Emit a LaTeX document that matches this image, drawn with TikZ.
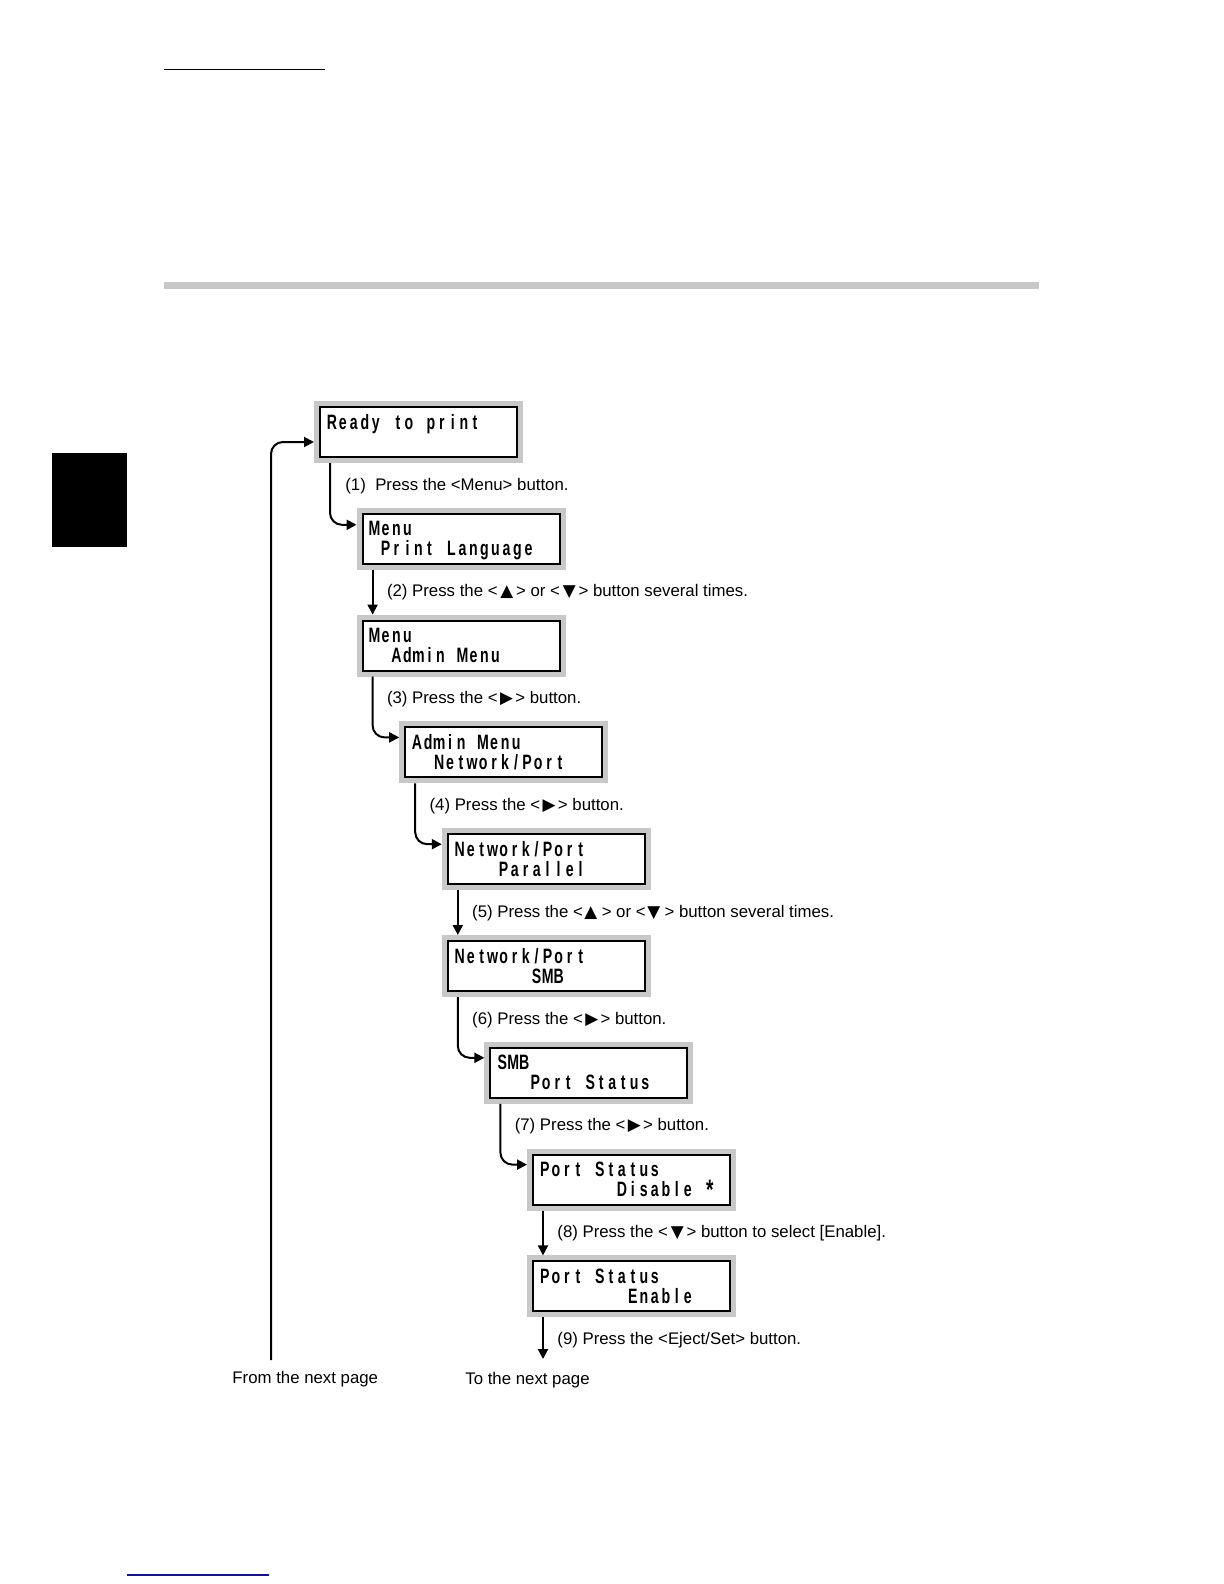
\documentclass[tikz,border=0pt]{standalone}
\usepackage{fontspec}
\usepackage{graphicx}
\setmainfont{Liberation Sans}
\newfontfamily\lcdfont[FakeStretch=0.68]{Liberation Sans}
\newfontfamily\symfont{DejaVu Sans}
\usetikzlibrary{arrows.meta,calc}
\ExplSyntaxOn
\NewDocumentCommand\lcdtext{m}{
  \str_map_inline:nn {#1} {
    \str_if_eq:nnTF {##1} {_}
      { \hbox_to_wd:nn {5.5pt} { } }
      {
        \str_if_eq:nnTF {##1} {*}
          { \hbox_to_wd:nn {5.5pt} { \hss \raisebox{-1.6pt}{\scalebox{1.35}{*}} \hss } }
          { \hbox_to_wd:nn {5.5pt} { \hss ##1 \hss } }
      }
  }
}
\ExplSyntaxOff
\newcommand\up{\kern1.4pt{\symfont ▲}\kern1.4pt}
\newcommand\down{\kern1.4pt{\symfont ▼}\kern1.4pt}
\newcommand\upsp{\kern0.8pt{\symfont ▲}\kern2.2pt}
\newcommand\downsp{\kern0.8pt{\symfont ▼}\kern2.2pt}
\newcommand\rightkey{\kern1.2pt{\symfont ▶}\kern1.2pt}
\definecolor{framegray}{RGB}{200,200,200}
\definecolor{navyline}{RGB}{20,20,130}
\newcommand\lcdframe[3]{%
  \node[lcdouter] (#1o) at (#2,#3) {};
  \node[lcdinner] (#1) at (#1o.center) {};
}
\begin{document}
\begin{tikzpicture}[x=0.5pt,y=-0.5pt,
  lcdouter/.style={rectangle, fill=framegray, draw=none, anchor=north west,
    minimum width=104.5pt, minimum height=31pt, inner sep=0pt, outer sep=0pt},
  lcdinner/.style={rectangle, fill=white, draw=black, line width=1pt,
    minimum width=98.5pt, minimum height=25pt, inner sep=0pt, outer sep=0pt},
  lcdtxt/.style={anchor=base west, inner sep=0pt,
    font=\lcdfont\bfseries\fontsize{10.4pt}{11pt}\selectfont},
  steplabel/.style={anchor=base west, inner sep=0pt,
    font=\fontsize{8.4pt}{10pt}\selectfont},
  conn/.style={line width=1pt, -{Triangle[length=5pt,width=5pt]}},
  turn/.style={conn, rounded corners=6pt}]
\useasboundingbox (0,0) rectangle (1224,1584);

% page decorations
\draw[line width=0.5pt] (164,69.5) -- (325,69.5);
\fill[framegray] (164,282) rectangle (1039,289);
\fill[black] (52,453) rectangle (127,547);
\draw[navyline, line width=0.7pt] (127,1575) -- (269,1575);

% LCD boxes
\lcdframe{b1}{314}{401}
\lcdframe{b2}{356.6}{507.8}
\lcdframe{b3}{356.6}{614.6}
\lcdframe{b4}{399.2}{721.4}
\lcdframe{b5}{441.8}{828.2}
\lcdframe{b6}{441.8}{935}
\lcdframe{b7}{484.4}{1041.8}
\lcdframe{b8}{527}{1148.6}
\lcdframe{b9}{527}{1255.4}

\node[lcdtxt] (b1a) at ($(b1o.north west)+(12,28)$) {\lcdtext{Ready_to_print}};
\node[lcdtxt] (b2a) at ($(b2o.north west)+(12,28)$) {\lcdtext{Menu}};
\node[lcdtxt] (b2b) at ($(b2o.north west)+(12,48)$) {\lcdtext{_Print_Language}};
\node[lcdtxt] (b3a) at ($(b3o.north west)+(12,28)$) {\lcdtext{Menu}};
\node[lcdtxt] (b3b) at ($(b3o.north west)+(12,48)$) {\lcdtext{__Admin_Menu}};
\node[lcdtxt] (b4a) at ($(b4o.north west)+(12,28)$) {\lcdtext{Admin_Menu}};
\node[lcdtxt] (b4b) at ($(b4o.north west)+(12,48)$) {\lcdtext{__Network/Port}};
\node[lcdtxt] (b5a) at ($(b5o.north west)+(12,28)$) {\lcdtext{Network/Port}};
\node[lcdtxt] (b5b) at ($(b5o.north west)+(12,48)$) {\lcdtext{____Parallel}};
\node[lcdtxt] (b6a) at ($(b6o.north west)+(12,28)$) {\lcdtext{Network/Port}};
\node[lcdtxt] (b6b) at ($(b6o.north west)+(12,48)$) {\lcdtext{_______SMB}};
\node[lcdtxt] (b7a) at ($(b7o.north west)+(12,28)$) {\lcdtext{SMB}};
\node[lcdtxt] (b7b) at ($(b7o.north west)+(12,48)$) {\lcdtext{___Port_Status}};
\node[lcdtxt] (b8a) at ($(b8o.north west)+(12,28)$) {\lcdtext{Port_Status}};
\node[lcdtxt] (b8b) at ($(b8o.north west)+(12,48)$) {\lcdtext{_______Disable_*}};
\node[lcdtxt] (b9a) at ($(b9o.north west)+(12,28)$) {\lcdtext{Port_Status}};
\node[lcdtxt] (b9b) at ($(b9o.north west)+(12,48)$) {\lcdtext{________Enable}};

% step labels
\node[steplabel] (l1) at ($(b1o.north west)+(31,89)$) {(1)\ \ Press the <Menu> button.};
\node[steplabel] (l2) at ($(b2o.north west)+(30,89)$) {(2) Press the <\up> or <\down> button several times.};
\node[steplabel] (l3) at ($(b3o.north west)+(30,89)$) {(3) Press the <\rightkey> button.};
\node[steplabel] (l4) at ($(b4o.north west)+(30,89)$) {(4) Press the <\rightkey> button.};
\node[steplabel] (l5) at ($(b5o.north west)+(30,89)$) {(5) Press the <\upsp> or <\downsp> button several times.};
\node[steplabel] (l6) at ($(b6o.north west)+(30,89)$) {(6) Press the <\rightkey> button.};
\node[steplabel] (l7) at ($(b7o.north west)+(30,89)$) {(7) Press the <\rightkey> button.};
\node[steplabel] (l8) at ($(b8o.north west)+(30,89)$) {(8) Press the <\down> button to select [Enable].};
\node[steplabel] (l9) at ($(b9o.north west)+(30,89)$) {(9) Press the <Eject/Set> button.};

% connectors
\draw[turn] ($(b1o.south west)+(16,0)$) |- ($(b2o.north west)+(0,17)$);
\draw[conn] ($(b2o.south west)+(16,0)$) -- ($(b3o.north west)+(16,0)$);
\draw[turn] ($(b3o.south west)+(16,0)$) |- ($(b4o.north west)+(0,16)$);
\draw[turn] ($(b4o.south west)+(16,0)$) |- ($(b5o.north west)+(0,16)$);
\draw[conn] ($(b5o.south west)+(16,0)$) -- ($(b6o.north west)+(16,0)$);
\draw[turn] ($(b6o.south west)+(16,0)$) |- ($(b7o.north west)+(0,16)$);
\draw[turn] ($(b7o.south west)+(16,0)$) |- ($(b8o.north west)+(0,16)$);
\draw[conn] ($(b8o.south west)+(16,0)$) -- ($(b9o.north west)+(16,0)$);
\coordinate (outend) at (543,1359);
\draw[conn] ($(b9o.south west)+(16,0)$) -- (outend);
\coordinate (loopstart) at (271,1360);
\draw[turn] (loopstart) |- ($(b1o.north west)+(0,41)$);

\node[steplabel] (fromtxt) at (232,1383) {From the next page};
\node[steplabel] (totxt) at (465,1384) {To the next page};
\end{tikzpicture}
\end{document}
